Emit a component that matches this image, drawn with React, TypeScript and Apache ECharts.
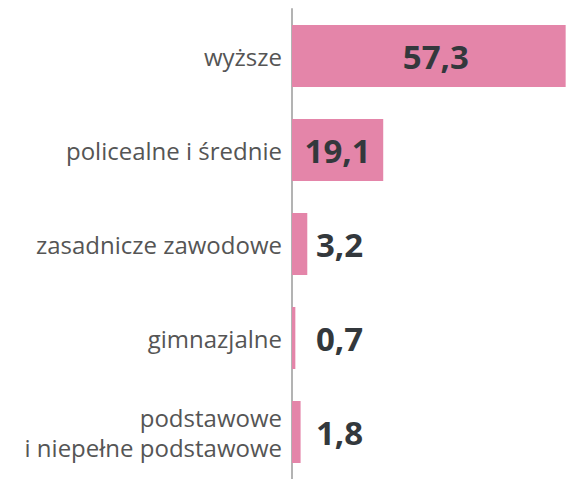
import React, { useEffect, useRef } from "react";
import * as echarts from "echarts";

const categories = [
  "wyższe",
  "policealne i średnie",
  "zasadnicze zawodowe",
  "gimnazjalne",
  "podstawowe\ni niepełne podstawowe",
];
const values = [57.3, 19.1, 3.2, 0.7, 1.8];
const insideLabel = [true, true, false, false, false];

export default function App() {
  const ref = useRef<HTMLDivElement>(null);
  useEffect(() => {
    if (!ref.current) return;
    const chart = echarts.init(ref.current, undefined, { renderer: "svg" });
    const fmt = (v: number) => v.toFixed(1).replace(".", ",");
    chart.setOption({
      animation: false,
      grid: { left: 292, right: 0, top: 9, height: 477, containLabel: false },
      xAxis: {
        type: "value",
        min: 0,
        max: 58,
        show: false,
      },
      yAxis: {
        type: "category",
        inverse: true,
        data: categories,
        axisLine: { show: true, lineStyle: { color: "#b3b3b3", width: 2 } },
        axisTick: { show: false },
        axisLabel: {
          color: "#555555",
          fontSize: 24,
          fontFamily: "Open Sans",
          margin: 10,
          lineHeight: 30,
          align: "right",
        },
      },
      series: [
        {
          type: "bar",
          barCategoryGap: "34%",
          itemStyle: { color: "#e485a9" },
          data: values.map((v, i) => ({
            value: v,
            label: {
              show: true,
              position: insideLabel[i] ? "inside" : [24, "50%"],
              align: insideLabel[i] ? "center" : "left",
              verticalAlign: "middle",
              offset: i === 0 ? [7, 0] : [0, 0],
              formatter: () => fmt(v),
              color: "#33383c",
              fontSize: 33,
              fontWeight: "bold",
              fontFamily: "Open Sans",
            },
          })),
        },
      ],
    });
    return () => chart.dispose();
  }, []);
  return <div ref={ref} style={{ width: 569, height: 479, position: "absolute", left: 0, top: 0 }} />;
}
